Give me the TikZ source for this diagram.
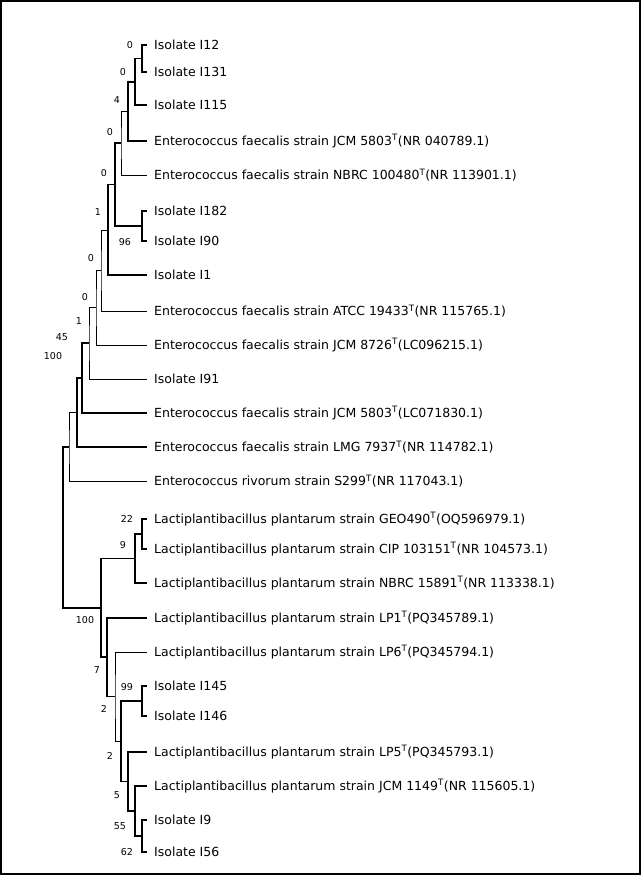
\documentclass[tikz,border=0pt]{standalone}
\usepackage{fontspec}
\setmainfont{DejaVu Sans}
\begin{document}
\begin{tikzpicture}[x=1pt,y=-1pt,
    leaf/.style={anchor=west,inner sep=0pt,font=\fontsize{12.5}{12.5}\selectfont},
    boot/.style={inner sep=0pt,font=\fontsize{9.5}{9.5}\selectfont},
    br/.style={line width=1.3pt},
    thinbr/.style={line width=0.8pt}]
    % Frame
    \useasboundingbox (0,0) rectangle (641,875);
    \draw[line width=2pt] (1,1) rectangle (640,874);

    % Leaves
    \foreach \n/\y/\t in {i12/45/Isolate I12, i131/72/Isolate I131, i115/105/Isolate I115,
        jcmnr/141/Enterococcus faecalis strain JCM 5803\textsuperscript{T}(NR 040789.1),
        nbrc/175/Enterococcus faecalis strain NBRC 100480\textsuperscript{T}(NR 113901.1),
        i182/211/Isolate I182, i90/241/Isolate I90, i1/275/Isolate I1,
        atcc/311/Enterococcus faecalis strain ATCC 19433\textsuperscript{T}(NR 115765.1),
        jcmlc/345/Enterococcus faecalis strain JCM 8726\textsuperscript{T}(LC096215.1),
        i91/379/Isolate I91,
        jcmlcb/413/Enterococcus faecalis strain JCM 5803\textsuperscript{T}(LC071830.1),
        lmg/447/Enterococcus faecalis strain LMG 7937\textsuperscript{T}(NR 114782.1),
        riv/481/Enterococcus rivorum strain S299\textsuperscript{T}(NR 117043.1),
        geo/519/Lactiplantibacillus plantarum strain GEO490\textsuperscript{T}(OQ596979.1),
        cip/549/Lactiplantibacillus plantarum strain CIP 103151\textsuperscript{T}(NR 104573.1),
        nbrcl/583/Lactiplantibacillus plantarum strain NBRC 15891\textsuperscript{T}(NR 113338.1),
        lpa/618/Lactiplantibacillus plantarum strain LP1\textsuperscript{T}(PQ345789.1),
        lpf/652/Lactiplantibacillus plantarum strain LP6\textsuperscript{T}(PQ345794.1),
        i145/686/Isolate I145, i146/716/Isolate I146,
        lpe/752/Lactiplantibacillus plantarum strain LP5\textsuperscript{T}(PQ345793.1),
        jcml/786/Lactiplantibacillus plantarum strain JCM 1149\textsuperscript{T}(NR 115605.1),
        i9/820/Isolate I9, i56/852/Isolate I56}
    {
        \coordinate (\n) at (147,\y);
        \node[leaf] (\n-t) at (154,\y) {\t};
    }

    % Internal nodes
    \coordinate (a) at (142,58.5);
    \coordinate (b) at (135,82);
    \coordinate (c) at (128,111.5);
    \coordinate (d) at (121,143);
    \coordinate (x) at (142,226);
    \coordinate (e) at (115,184.5);
    \coordinate (f) at (108,230);
    \coordinate (g) at (101,270);
    \coordinate (h) at (96,307.5);
    \coordinate (i) at (89,343);
    \coordinate (j) at (82,378);
    \coordinate (k) at (77,412.5);
    \coordinate (l) at (69,447);
    \coordinate (p) at (142,534);
    \coordinate (n) at (135,558.5);
    \coordinate (s) at (142,701);
    \coordinate (v) at (142,836);
    \coordinate (u) at (135,811);
    \coordinate (t) at (128,781.5);
    \coordinate (r) at (121,741);
    \coordinate (q) at (115,696.5);
    \coordinate (o) at (107,657);
    \coordinate (m) at (101,608);
    \coordinate (root) at (63,527);

    % Branches
    \draw[br] (i12) -| (a) |- (i131);
    \draw[br] (a) -| (b) |- (i115);
    \draw[br] (b) -| (c) |- (jcmnr);
    \draw[thinbr] (c) -| (d) |- (nbrc);
    \draw[br] (i182) -| (x) |- (i90);
    \draw[br] (d) -| (e) |- (x);
    \draw[br] (e) -| (f) |- (i1);
    \draw[thinbr] (f) -| (g) |- (atcc);
    \draw[thinbr] (g) -| (h) |- (jcmlc);
    \draw[thinbr] (h) -| (i) |- (i91);
    \draw[br] (i) -| (j) |- (jcmlcb);
    \draw[br] (j) -| (k) |- (lmg);
    \draw[thinbr] (k) -| (l) |- (riv);
    \draw[br] (geo) -| (p) |- (cip);
    \draw[br] (p) -| (n) |- (nbrcl);
    \draw[br] (i145) -| (s) |- (i146);
    \draw[br] (i9) -| (v) |- (i56);
    \draw[br] (jcml) -| (u) |- (v);
    \draw[br] (lpe) -| (t) |- (u);
    \draw[br] (s) -| (r) |- (t);
    \draw[thinbr] (lpf) -| (q) |- (r);
    \draw[br] (lpa) -| (o) |- (q);
    \draw[br] (n) -| (m) |- (o);
    \draw[br] (l) -| (root) |- (m);

    % Bootstrap values
    \foreach \x/\y/\v in {130/45/0, 123/72/0, 117/100/4, 110/132/0, 104/173/0,
        98/212/1, 125/242/96, 91/258/0, 85/297/0, 79/321/1, 62/337/45, 53/356/100,
        127/519/22, 123/545/9, 85/620/100, 97/670/7, 127/687/99, 104/709/2,
        110/756/2, 117/795/5, 120/826/55, 127/852/62}
        \node[boot] at (\x,\y) {\v};
\end{tikzpicture}
\end{document}
